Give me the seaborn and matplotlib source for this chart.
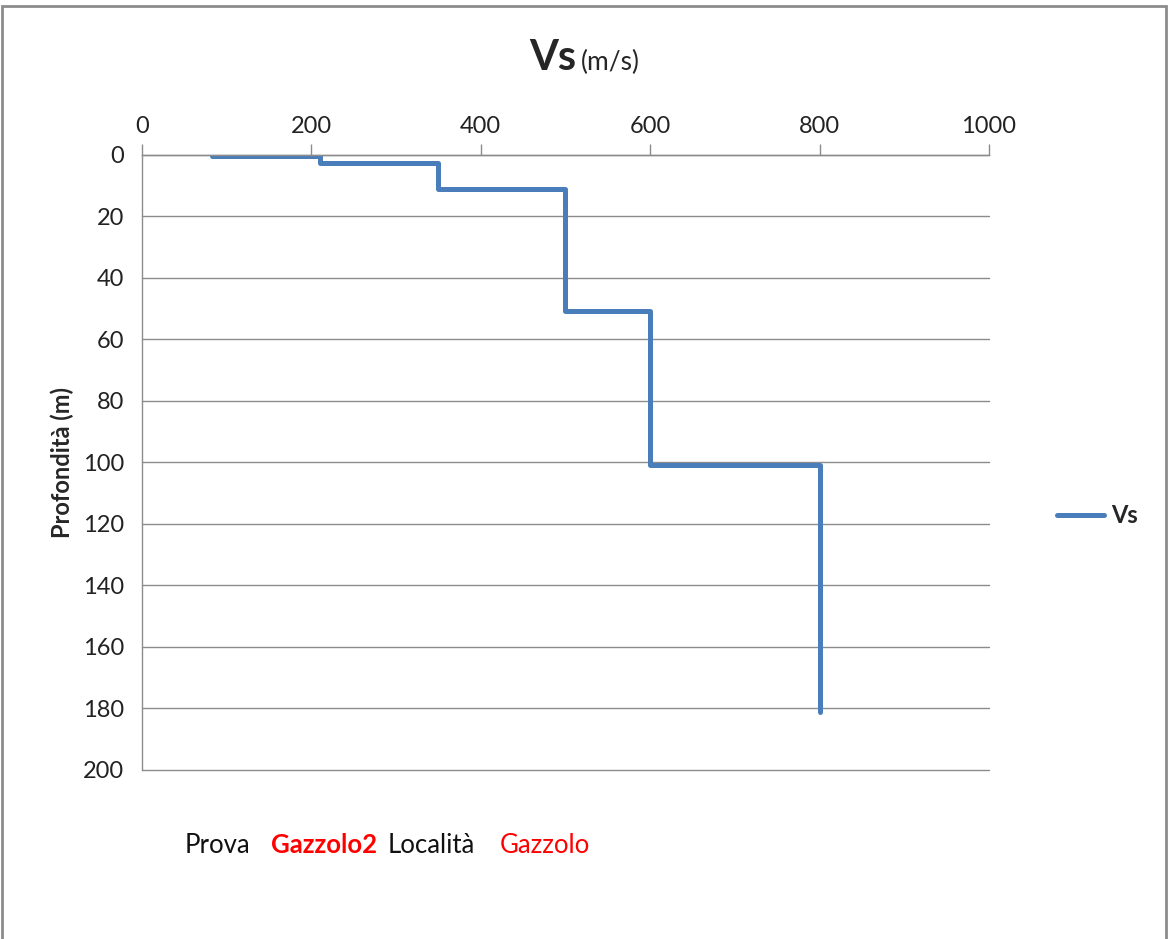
import pandas as pd
import matplotlib.pyplot as plt
import seaborn as sns
from matplotlib.patches import Rectangle

# profilo Vs a gradini
vs_punti = [83, 210, 210, 350, 350, 500, 500, 600, 600, 800, 800]
prof_punti = [0.5, 0.5, 2.7, 2.7, 11.2, 11.2, 50.7, 50.7, 100.8, 100.8, 181]
x_ticks = [0, 200, 400, 600, 800, 1000]
y_ticks = [0, 20, 40, 60, 80, 100, 120, 140, 160, 180, 200]

df = pd.DataFrame({'Vs': vs_punti, 'Profondita': prof_punti, 'serie': 'Vs'})

sns.set_theme(style="white")
plt.rcParams['font.family'] = ['Lato', 'DejaVu Sans']

fig = plt.figure(figsize=(11.68, 9.39), dpi=100)
ax = fig.add_axes([0.1216, 0.180, 0.7251, 0.655])

sns.lineplot(data=df, x='Vs', y='Profondita', hue='serie', sort=False, estimator=None,
             palette=['#4A7EBB'], linewidth=3.6, solid_capstyle='round', ax=ax)

ax.set_xlim(0, 1000)
ax.set_ylim(200, 0)
ax.set_xticks(x_ticks)
ax.set_yticks(y_ticks)
ax.xaxis.tick_top()
ax.tick_params(axis='both', labelsize=17, colors='#222222', length=8, width=1, direction='out', pad=5)
ax.tick_params(axis='x', color='#8c8c8c')
ax.tick_params(axis='y', color='#8c8c8c')
ax.yaxis.grid(True, color='#8c8c8c', linewidth=1)
ax.xaxis.grid(False)
for g in ax.get_ygridlines():
    g.set_clip_on(False)
for s in ['right', 'bottom']:
    ax.spines[s].set_visible(False)
for s in ['top', 'left']:
    ax.spines[s].set_color('#8c8c8c')
    ax.spines[s].set_linewidth(1)
ax.set_xlabel('')
ax.set_ylabel('Profondità (m)', fontsize=17, fontweight='bold', labelpad=6)

leg = ax.legend(loc='center left', bbox_to_anchor=(1.080, 0.413), frameon=False,
                borderpad=0, borderaxespad=0, handlelength=2.0, handletextpad=0.3,
                prop={'weight': 'bold', 'size': 17})

# titolo
fig.text(0.4935, 0.925, 'Vs', fontsize=30, fontweight='bold', ha='right', va='baseline')
fig.text(0.497, 0.925, '(m/s)', fontsize=19, ha='left', va='baseline')

# riga informativa
fig.text(0.158, 0.092, 'Prova', fontsize=18.5, color='#111111')
fig.text(0.232, 0.092, 'Gazzolo2', fontsize=18.5, color='red', fontweight='bold')
fig.text(0.332, 0.092, 'Località', fontsize=18.5, color='#111111')
fig.text(0.428, 0.092, 'Gazzolo', fontsize=18.5, color='red')

# cornice del grafico
fig.patches.append(Rectangle((0.002, -0.1), 0.996, 1.094, transform=fig.transFigure,
                             fill=False, edgecolor='#8c8c8c', linewidth=2))

fig.savefig('out.png', dpi=100)
